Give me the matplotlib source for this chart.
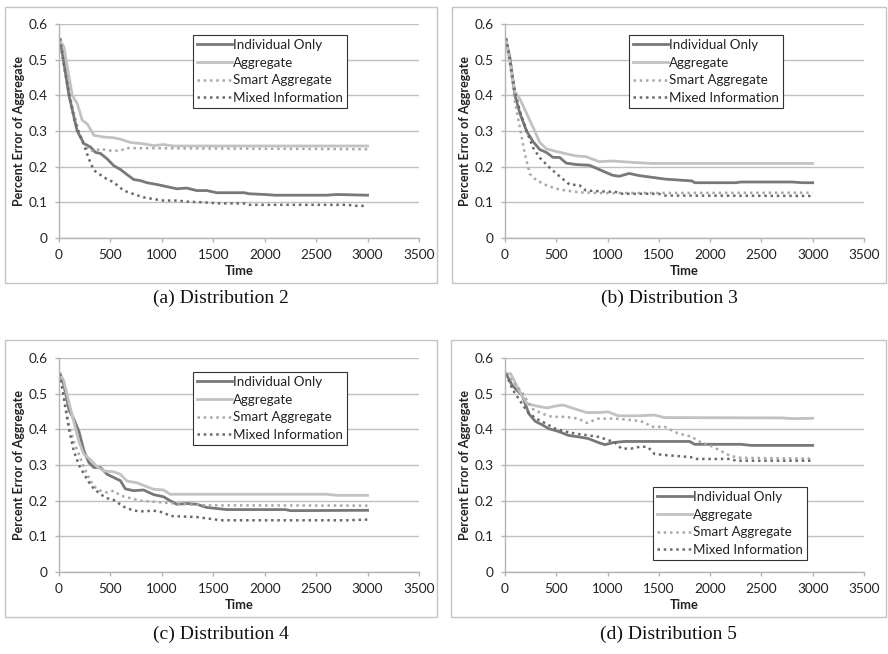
import matplotlib
matplotlib.use("Agg")
import matplotlib.pyplot as plt
from matplotlib.patches import Rectangle

# ---------------- data ----------------
SERIES = ["Individual Only", "Aggregate", "Smart Aggregate", "Mixed Information"]
CAPTIONS = ["(a) Distribution 2", "(b) Distribution 3", "(c) Distribution 4", "(d) Distribution 5"]
X_TICKS = [0, 500, 1000, 1500, 2000, 2500, 3000, 3500]
Y_TICKS = [0, 0.1, 0.2, 0.3, 0.4, 0.5, 0.6]

# Distribution 2
a_ind_t = [10, 48, 97, 177, 242, 306, 355, 403, 468, 532, 597, 661, 726, 790, 855, 952, 1048, 1145, 1242, 1339, 1436, 1533, 1800, 1850, 2000, 2100, 2600, 2700, 3000]
a_ind_v = [0.555, 0.49, 0.40, 0.30, 0.265, 0.255, 0.24, 0.237, 0.222, 0.203, 0.192, 0.178, 0.164, 0.161, 0.155, 0.15, 0.144, 0.138, 0.14, 0.133, 0.133, 0.127, 0.127, 0.124, 0.122, 0.12, 0.12, 0.122, 0.12]
a_agg_t = [10, 48, 129, 177, 226, 274, 339, 436, 532, 597, 694, 823, 919, 1016, 1113, 3000]
a_agg_v = [0.555, 0.535, 0.40, 0.377, 0.33, 0.32, 0.288, 0.283, 0.281, 0.277, 0.268, 0.264, 0.259, 0.262, 0.258, 0.258]
a_sma_t = [10, 60, 120, 190, 250, 300, 350, 400, 500, 600, 650, 3000]
a_sma_v = [0.56, 0.48, 0.38, 0.30, 0.26, 0.245, 0.243, 0.25, 0.245, 0.245, 0.252, 0.249]
a_mix_t = [10, 50, 100, 150, 200, 250, 290, 339, 436, 532, 629, 726, 823, 919, 1016, 1145, 1242, 1404, 1565, 1800, 1850, 2800, 2900, 3000]
a_mix_v = [0.56, 0.48, 0.40, 0.33, 0.29, 0.255, 0.222, 0.19, 0.17, 0.156, 0.133, 0.123, 0.114, 0.109, 0.105, 0.105, 0.102, 0.1, 0.097, 0.097, 0.093, 0.093, 0.09, 0.09]

# Distribution 3
b_ind_t = [10, 48, 97, 145, 210, 274, 339, 403, 468, 532, 597, 694, 823, 919, 1048, 1113, 1210, 1307, 1436, 1565, 1823, 1850, 2250, 2300, 2800, 2900, 3000]
b_ind_v = [0.555, 0.505, 0.40, 0.35, 0.30, 0.27, 0.248, 0.24, 0.226, 0.226, 0.21, 0.206, 0.204, 0.192, 0.176, 0.173, 0.181, 0.175, 0.17, 0.165, 0.16, 0.155, 0.155, 0.157, 0.157, 0.155, 0.155]
b_agg_t = [10, 97, 145, 210, 274, 339, 403, 468, 597, 694, 790, 919, 1048, 1242, 1436, 3000]
b_agg_v = [0.555, 0.41, 0.39, 0.35, 0.31, 0.268, 0.25, 0.245, 0.236, 0.23, 0.228, 0.214, 0.216, 0.212, 0.209, 0.209]
b_sma_t = [10, 48, 97, 145, 194, 242, 306, 403, 500, 597, 726, 919, 3000]
b_sma_v = [0.56, 0.49, 0.38, 0.31, 0.235, 0.18, 0.162, 0.148, 0.138, 0.133, 0.128, 0.126, 0.127]
b_mix_t = [10, 48, 97, 145, 210, 274, 339, 436, 532, 629, 726, 790, 919, 1080, 1145, 1500, 1550, 3000]
b_mix_v = [0.56, 0.50, 0.41, 0.355, 0.30, 0.253, 0.225, 0.197, 0.173, 0.15, 0.148, 0.133, 0.131, 0.129, 0.124, 0.124, 0.119, 0.118]

# Distribution 4
c_ind_t = [10, 48, 97, 145, 194, 242, 290, 339, 403, 468, 532, 597, 645, 726, 823, 919, 1016, 1080, 1145, 1242, 1339, 1436, 1533, 1630, 1823, 2200, 2250, 3000]
c_ind_v = [0.556, 0.524, 0.455, 0.428, 0.394, 0.34, 0.307, 0.293, 0.293, 0.274, 0.265, 0.256, 0.233, 0.228, 0.23, 0.217, 0.211, 0.2, 0.19, 0.192, 0.19, 0.181, 0.178, 0.175, 0.175, 0.175, 0.172, 0.173]
c_agg_t = [10, 48, 97, 145, 194, 242, 306, 371, 436, 532, 597, 661, 758, 855, 919, 1016, 1080, 2600, 2700, 3000]
c_agg_v = [0.556, 0.535, 0.475, 0.42, 0.365, 0.33, 0.315, 0.295, 0.283, 0.281, 0.274, 0.255, 0.25, 0.239, 0.232, 0.23, 0.218, 0.218, 0.215, 0.215]
c_sma_t = [10, 48, 97, 145, 194, 242, 306, 355, 403, 468, 532, 597, 694, 790, 919, 1080, 1242, 1436, 3000]
c_sma_v = [0.556, 0.495, 0.41, 0.365, 0.33, 0.293, 0.255, 0.237, 0.228, 0.223, 0.228, 0.214, 0.207, 0.2, 0.197, 0.193, 0.19, 0.187, 0.186]
c_mix_t = [10, 48, 97, 145, 194, 242, 290, 339, 420, 468, 532, 629, 726, 823, 919, 1016, 1080, 1177, 1339, 1500, 1565, 2800, 3000]
c_mix_v = [0.556, 0.485, 0.40, 0.338, 0.30, 0.275, 0.252, 0.233, 0.215, 0.207, 0.202, 0.183, 0.172, 0.17, 0.172, 0.167, 0.157, 0.156, 0.154, 0.148, 0.145, 0.145, 0.147]

# Distribution 5
d_ind_t = [10, 71, 168, 232, 297, 361, 426, 522, 619, 716, 813, 910, 974, 1055, 1168, 1297, 1800, 1850, 2300, 2400, 3000]
d_ind_v = [0.556, 0.523, 0.495, 0.444, 0.422, 0.413, 0.402, 0.394, 0.383, 0.379, 0.374, 0.363, 0.357, 0.363, 0.366, 0.366, 0.366, 0.358, 0.358, 0.355, 0.355]
d_agg_t = [10, 55, 135, 216, 297, 410, 506, 571, 684, 797, 910, 1006, 1103, 1297, 1458, 1555, 2700, 2800, 3000]
d_agg_v = [0.556, 0.556, 0.51, 0.472, 0.466, 0.46, 0.466, 0.468, 0.457, 0.447, 0.447, 0.449, 0.438, 0.438, 0.44, 0.433, 0.432, 0.43, 0.431]
d_sma_t = [10, 71, 168, 264, 361, 458, 587, 716, 797, 910, 1071, 1265, 1361, 1426, 1555, 1684, 1813, 1900, 2000, 2100, 2200, 2300, 3000]
d_sma_v = [0.556, 0.537, 0.503, 0.458, 0.444, 0.435, 0.435, 0.43, 0.418, 0.43, 0.43, 0.425, 0.42, 0.407, 0.407, 0.389, 0.38, 0.365, 0.355, 0.34, 0.325, 0.32, 0.318]
d_mix_t = [10, 71, 135, 216, 297, 393, 490, 587, 684, 813, 910, 1006, 1071, 1135, 1232, 1329, 1394, 1458, 1555, 1684, 1813, 1850, 2200, 2250, 3000]
d_mix_v = [0.556, 0.513, 0.485, 0.45, 0.431, 0.417, 0.402, 0.394, 0.388, 0.383, 0.379, 0.37, 0.363, 0.346, 0.346, 0.352, 0.35, 0.331, 0.328, 0.325, 0.322, 0.317, 0.317, 0.312, 0.312]

PANELS = [
    [(a_ind_t, a_ind_v), (a_agg_t, a_agg_v), (a_sma_t, a_sma_v), (a_mix_t, a_mix_v)],
    [(b_ind_t, b_ind_v), (b_agg_t, b_agg_v), (b_sma_t, b_sma_v), (b_mix_t, b_mix_v)],
    [(c_ind_t, c_ind_v), (c_agg_t, c_agg_v), (c_sma_t, c_sma_v), (c_mix_t, c_mix_v)],
    [(d_ind_t, d_ind_v), (d_agg_t, d_agg_v), (d_sma_t, d_sma_v), (d_mix_t, d_mix_v)],
]

# ---------------- styling / layout ----------------
W, H = 888, 654
STYLES = [
    dict(color="#787878", lw=2.0, ls="-"),
    dict(color="#c2c2c2", lw=2.0, ls="-"),
    dict(color="#a8a8a8", lw=1.8, ls=(0, (1, 1.5))),
    dict(color="#6a6a6a", lw=1.8, ls=(0, (1, 1.5))),
]
# (left, top, right, bottom) in pixels
AX_BOX = [(59, 24, 419, 238), (505, 24, 864, 238), (59, 358, 419, 572), (505, 358, 864, 572)]
FRAME_BOX = [(5, 7, 437, 283), (452, 7, 886, 283), (5, 340, 437, 617), (451, 340, 886, 617)]
LEG_POS = [(193, 35), (629, 35), (193, 372), (653, 487)]
CAP_Y = [298, 298, 634, 634]

SANS = ["Lato", "DejaVu Sans"]
plt.rcParams["font.family"] = SANS

fig = plt.figure(figsize=(W / 100, H / 100), dpi=100)

def fx(px):
    return px / W

def fy(py):
    return 1 - py / H

for i in range(4):
    l, t, r, b = FRAME_BOX[i]
    fig.patches.append(Rectangle((fx(l), fy(b)), fx(r - l), (b - t) / H,
                                 transform=fig.transFigure, fill=False,
                                 edgecolor="#c4c4c4", lw=1.0))
    l, t, r, b = AX_BOX[i]
    ax = fig.add_axes([fx(l), fy(b), fx(r - l), (b - t) / H])
    for j, (ts, vs) in enumerate(PANELS[i]):
        st = STYLES[j]
        ax.plot(ts, vs, color=st["color"], lw=st["lw"], ls=st["ls"], label=SERIES[j])
    ax.set_xlim(0, 3500)
    ax.set_ylim(0, 0.6)
    ax.set_xticks(X_TICKS)
    ax.set_yticks(Y_TICKS)
    ax.set_xticklabels([str(v) for v in X_TICKS])
    ax.set_yticklabels(["0" if v == 0 else f"{v:.1f}" for v in Y_TICKS])
    ax.grid(axis="y", color="#c0c0c0", lw=1.0)
    ax.set_axisbelow(True)
    for s in ["top", "right"]:
        ax.spines[s].set_visible(False)
    for s in ["left", "bottom"]:
        ax.spines[s].set_color("#b4b4b4")
        ax.spines[s].set_linewidth(1.0)
    ax.tick_params(axis="both", colors="#b4b4b4", labelcolor="#222222",
                   labelsize=9.8, length=3, width=1, direction="out")
    ax.tick_params(axis="x", pad=5)
    ax.tick_params(axis="y", pad=5)
    ax.set_xlabel("Time", fontsize=9.3, fontweight="bold", color="#222222", labelpad=3)
    ax.set_ylabel("Percent Error of Aggregate", fontsize=9.0, fontweight="bold",
                  color="#222222", labelpad=3)
    lx, ly = LEG_POS[i]
    leg = ax.legend(loc="upper left", bbox_to_anchor=(fx(lx), fy(ly)),
                    bbox_transform=fig.transFigure, fontsize=9.6, frameon=True,
                    fancybox=False, framealpha=1, edgecolor="#333333",
                    handlelength=2.6, handletextpad=0.12, labelspacing=0.42,
                    borderpad=0.3, borderaxespad=0)
    leg.get_frame().set_linewidth(0.8)
    for txt in leg.get_texts():
        txt.set_color("#222222")
    cx = (FRAME_BOX[i][0] + FRAME_BOX[i][2]) / 2
    fig.text(fx(cx), fy(CAP_Y[i]), CAPTIONS[i], ha="center", va="center",
             fontsize=14, family=["Liberation Serif", "DejaVu Serif"], color="#111111")

fig.savefig("out.png", dpi=100, facecolor="white")
